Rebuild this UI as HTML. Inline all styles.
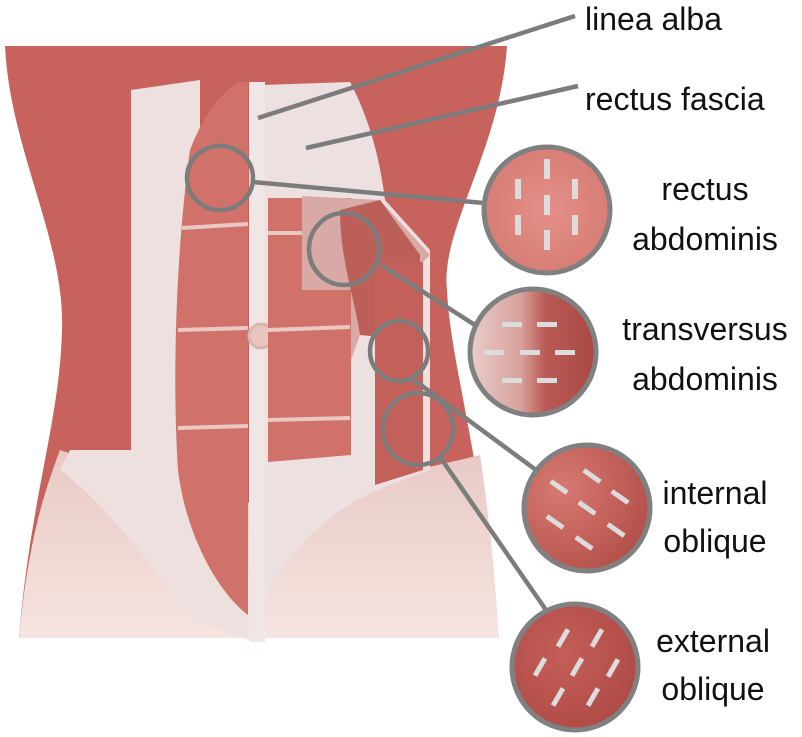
<!DOCTYPE html>
<html><head><meta charset="utf-8"><style>
html,body{margin:0;padding:0;background:#fff;}
svg{display:block}
text{font-family:"Liberation Sans",Arial,sans-serif;font-size:32px;fill:#111;}
</style></head><body>
<svg width="802" height="737" viewBox="0 0 802 737">
<defs>
<linearGradient id="pel" x1="0" y1="0" x2="0" y2="1"><stop offset="0" stop-color="#e8c9c4"/><stop offset="1" stop-color="#f5e4e0"/></linearGradient>
<radialGradient id="rc" cx="0.5" cy="0.5" r="0.6"><stop offset="0" stop-color="#e39088"/><stop offset="1" stop-color="#d57a72"/></radialGradient>
<linearGradient id="tc" x1="0" y1="0" x2="1" y2="0"><stop offset="0" stop-color="#e8cdca"/><stop offset="0.4" stop-color="#d9a29c"/><stop offset="0.6" stop-color="#b85a55"/><stop offset="1" stop-color="#a84844"/></linearGradient>
<radialGradient id="ic" cx="0.3" cy="0.35" r="0.8"><stop offset="0" stop-color="#d77a72"/><stop offset="1" stop-color="#b14c47"/></radialGradient>
<radialGradient id="ec" cx="0.4" cy="0.4" r="0.8"><stop offset="0" stop-color="#c45e58"/><stop offset="1" stop-color="#aa4642"/></radialGradient>
</defs>
<!-- torso -->
<path d="M5,46 L507,46 C500,150 440,230 447,290 C450,360 480,450 499,638 L19,638 C30,500 60,420 62,330 C65,240 10,150 5,46 Z" fill="#c8625c"/>
<!-- pelvis lower pale -->
<path d="M19,638 C28,540 45,490 60,450 C120,470 180,490 262,505 C340,485 420,470 480,455 C490,520 495,580 499,638 Z" fill="url(#pel)"/>
<!-- fascia white areas -->
<path d="M131,90 L200,80 L200,470 L262,600 L250,640 L190,620 C150,560 100,500 60,470 L70,450 L131,450 Z" fill="#ede0de"/>
<path d="M262,85 L350,82 C370,120 380,160 385,200 L430,250 L430,470 C380,490 320,500 262,600 Z" fill="#ece1e0"/>
<!-- left rectus -->
<path d="M240,82 L248,82 L248,615 C215,590 185,530 178,470 C172,380 176,250 190,150 C205,110 225,90 240,82Z" fill="#d0716a"/>
<g stroke="#eac9c5" stroke-width="4" fill="none"><path d="M182,228 L248,224"/><path d="M178,330 L248,328"/><path d="M178,428 L248,426"/></g>
<!-- linea alba -->
<rect x="249" y="82" width="16" height="560" fill="#efe6e5"/>
<circle cx="261" cy="336" r="12" fill="#e8c5bf" stroke="#d8b6b0" stroke-width="3"/>
<!-- right rectus -->
<path d="M268,198 L351,198 L351,455 L268,462 Z" fill="#d0716a"/>
<g stroke="#eac9c5" stroke-width="4" fill="none"><path d="M268,233 L350,233"/><path d="M268,330 L350,327"/><path d="M268,420 L350,418"/></g>
<!-- transversus window -->
<path d="M302,196 L380,200 L430,255 L423,262 L420,340 L360,335 L351,360 L351,290 L302,290 Z" fill="#d9aaa5"/>
<path d="M340,210 L380,200 L420,255 L420,340 L360,335 C355,300 340,260 340,210Z" fill="#bd5f59"/>
<!-- external oblique strip -->
<path d="M375,262 L423,262 L423,470 L375,485 Z" fill="#c4605a"/>
<!-- small circles -->
<g fill="none" stroke="#7c7c7c" stroke-width="4.5">
<ellipse cx="220" cy="178" rx="33" ry="32"/>
<ellipse cx="344" cy="249" rx="35" ry="36"/>
<ellipse cx="399" cy="351" rx="29" ry="30"/>
<ellipse cx="418" cy="429" rx="35" ry="36"/>
</g>
<!-- connector lines -->
<g stroke="#7c7c7c" stroke-width="4.5" fill="none">
<line x1="258" y1="118" x2="575" y2="16"/>
<line x1="306" y1="148" x2="578" y2="86"/>
<line x1="253" y1="182" x2="484" y2="203"/>
<line x1="381" y1="265" x2="475" y2="325"/>
<line x1="410" y1="377" x2="536" y2="470"/>
<line x1="440" y1="457" x2="546" y2="610"/>
</g>
<!-- big circles -->
<circle cx="547" cy="210" r="63" fill="url(#rc)" stroke="#808080" stroke-width="5"/>
<circle cx="533" cy="352" r="63" fill="url(#tc)" stroke="#808080" stroke-width="5"/>
<circle cx="587" cy="508" r="63" fill="url(#ic)" stroke="#808080" stroke-width="5"/>
<circle cx="575" cy="667" r="63" fill="url(#ec)" stroke="#808080" stroke-width="5"/>
<!-- dashes -->
<g fill="#dcdcdc">
<rect x="544" y="159" width="6" height="20"/><rect x="515" y="179" width="6" height="20"/><rect x="572" y="179" width="6" height="20"/>
<rect x="544" y="195" width="6" height="20"/><rect x="515" y="215" width="6" height="20"/><rect x="572" y="215" width="6" height="20"/><rect x="544" y="230" width="6" height="20"/>
<rect x="502" y="322" width="20" height="5"/><rect x="537" y="322" width="20" height="5"/>
<rect x="484" y="350" width="20" height="5"/><rect x="520" y="350" width="20" height="5"/><rect x="555" y="350" width="20" height="5"/>
<rect x="502" y="378" width="20" height="5"/><rect x="537" y="378" width="20" height="5"/>
</g>
<g fill="#dcdcdc">
<g transform="translate(592,476) rotate(35)"><rect x="-10" y="-2.5" width="20" height="5"/></g>
<g transform="translate(559,487) rotate(35)"><rect x="-10" y="-2.5" width="20" height="5"/></g>
<g transform="translate(620,497) rotate(35)"><rect x="-10" y="-2.5" width="20" height="5"/></g>
<g transform="translate(587,508) rotate(35)"><rect x="-10" y="-2.5" width="20" height="5"/></g>
<g transform="translate(555,522) rotate(35)"><rect x="-10" y="-2.5" width="20" height="5"/></g>
<g transform="translate(616,530) rotate(35)"><rect x="-10" y="-2.5" width="20" height="5"/></g>
<g transform="translate(584,543) rotate(35)"><rect x="-10" y="-2.5" width="20" height="5"/></g>
<g transform="translate(563,638) rotate(30)"><rect x="-2.5" y="-10" width="5" height="20"/></g>
<g transform="translate(597,638) rotate(30)"><rect x="-2.5" y="-10" width="5" height="20"/></g>
<g transform="translate(540,667) rotate(30)"><rect x="-2.5" y="-10" width="5" height="20"/></g>
<g transform="translate(577,667) rotate(30)"><rect x="-2.5" y="-10" width="5" height="20"/></g>
<g transform="translate(613,668) rotate(30)"><rect x="-2.5" y="-10" width="5" height="20"/></g>
<g transform="translate(558,697) rotate(30)"><rect x="-2.5" y="-10" width="5" height="20"/></g>
<g transform="translate(593,697) rotate(30)"><rect x="-2.5" y="-10" width="5" height="20"/></g>
</g>
<!-- labels -->
<text x="585" y="30">linea alba</text>
<text x="585" y="110">rectus fascia</text>
<text x="705" y="200" text-anchor="middle">rectus</text>
<text x="705" y="250" text-anchor="middle">abdominis</text>
<text x="705" y="340" text-anchor="middle">transversus</text>
<text x="705" y="390" text-anchor="middle">abdominis</text>
<text x="715" y="504" text-anchor="middle">internal</text>
<text x="715" y="552" text-anchor="middle">oblique</text>
<text x="713" y="652" text-anchor="middle">external</text>
<text x="713" y="700" text-anchor="middle">oblique</text>
</svg>
</body></html>
